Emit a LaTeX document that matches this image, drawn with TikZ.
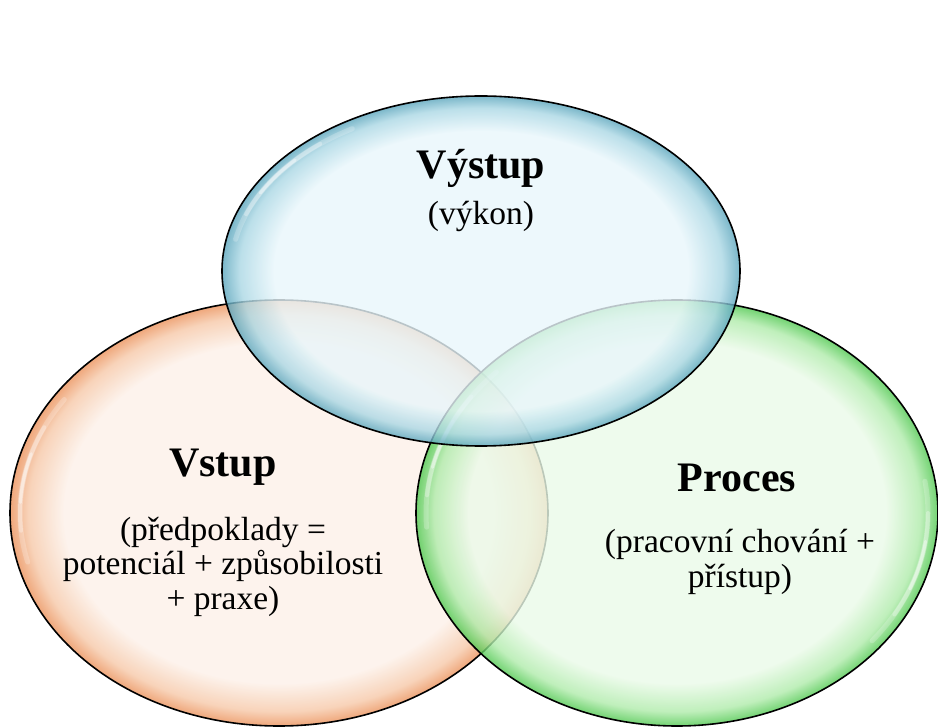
\documentclass[tikz,border=0pt]{standalone}
\usepackage{fontspec}
\setmainfont{Liberation Serif}

% bubble colours: inner tint, rim band, rim edge
\definecolor{bluein}{RGB}{232,246,251}
\definecolor{bluemid}{RGB}{170,215,228}
\definecolor{blueout}{RGB}{90,165,188}
\definecolor{orin}{RGB}{252,240,232}
\definecolor{ormid}{RGB}{246,200,168}
\definecolor{orout}{RGB}{235,145,90}
\definecolor{grin}{RGB}{234,250,232}
\definecolor{grmid}{RGB}{175,235,170}
\definecolor{grout}{RGB}{80,200,80}

\pgfdeclareradialshading{bubbleblue}{\pgfpoint{0bp}{0bp}}{color(0bp)=(bluein); color(20bp)=(bluein); color(23.3bp)=(bluemid); color(25bp)=(blueout); color(50bp)=(blueout)}
\pgfdeclareradialshading{bubbleorange}{\pgfpoint{0bp}{0bp}}{color(0bp)=(orin); color(20bp)=(orin); color(23.3bp)=(ormid); color(25bp)=(orout); color(50bp)=(orout)}
\pgfdeclareradialshading{bubblegreen}{\pgfpoint{0bp}{0bp}}{color(0bp)=(grin); color(20bp)=(grin); color(23.3bp)=(grmid); color(25bp)=(grout); color(50bp)=(grout)}

\tikzset{
  bubble/.style={shading=#1, fill opacity=0.8},
  rim/.style={draw=black, line width=1.6pt},
  gloss/.style={draw=white, line cap=round},
  title/.style={font=\fontsize{42}{48}\selectfont\bfseries, anchor=base, inner sep=0pt},
  sub/.style={font=\fontsize{33.5}{34.5}\selectfont, anchor=base, align=center, inner sep=0pt},
}

% glossy highlight along the inner rim of an ellipse
% #1 centre x, #2 centre y, #3 x radius, #4 y radius, #5 middle angle
\newcommand\glossarc[5]{%
  \foreach \half/\op/\wd in {24/0.22/5pt, 15/0.3/4pt, 7/0.4/3pt}{%
    \pgfmathsetmacro\sa{#5-\half}\pgfmathsetmacro\ea{#5+\half}%
    \draw[gloss, line width=\wd, opacity=\op]
      ([shift={(\sa:#3 and #4)}]#1,#2) arc[start angle=\sa, end angle=\ea, x radius=#3, y radius=#4];
  }%
}

\begin{document}
\begin{tikzpicture}[x=1pt, y=-1pt]
  \useasboundingbox (0,0) rectangle (938,727);

  % left bubble
  \shade[bubble=bubbleorange] (279,513) ellipse [x radius=269, y radius=213];
  \glossarc{279}{513}{259}{203}{190}
  \draw[rim] (279,513) ellipse [x radius=269, y radius=213];

  % right bubble
  \shade[bubble=bubblegreen] (677,513) ellipse [x radius=261, y radius=213];
  \glossarc{677}{513}{251}{203}{200}
  \glossarc{677}{513}{251}{203}{15}
  \draw[rim] (677,513) ellipse [x radius=261, y radius=213];

  % top bubble
  \shade[bubble=bubbleblue] (481,271) ellipse [x radius=259, y radius=175];
  \glossarc{481}{271}{250}{166}{215}
  \draw[rim] (481,271) ellipse [x radius=259, y radius=175];

  % labels (base anchor = baseline of the last line)
  \node[title] (outT) at (481,179) {Výstup};
  \node[sub]   (outS) at (481,225) {(výkon)};

  \node[title] (inT)  at (223,477) {Vstup};
  \node[sub]   (inS)  at (223,609) {(předpoklady =\\potenciál + způsobilosti\\+ praxe)};

  \node[title] (prT)  at (737,492) {Proces};
  \node[sub]   (prS)  at (740,587) {(pracovní chování +\\přístup)};
\end{tikzpicture}
\end{document}
